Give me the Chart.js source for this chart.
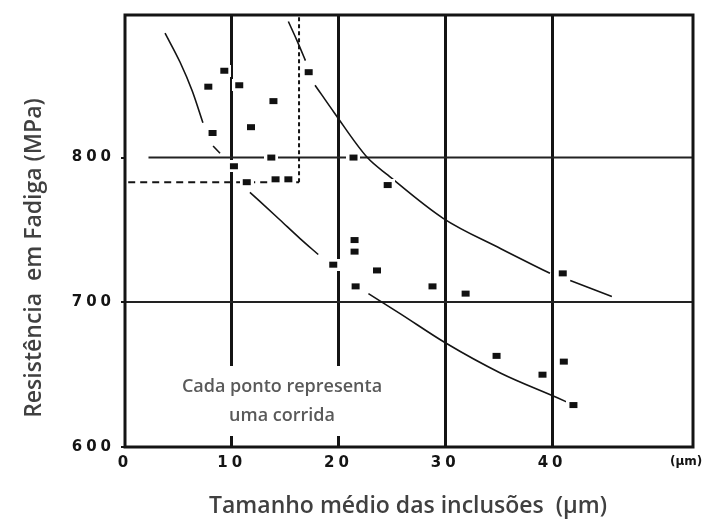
<!DOCTYPE html>
<html>
<head>
<meta charset="utf-8">
<script src="https://cdn.jsdelivr.net/npm/chart.js@4/dist/chart.umd.min.js"></script>
<style>
  html, body { margin: 0; padding: 0; background: #fff; overflow: hidden; }
  canvas { display: block; }
</style>
</head>
<body>
<canvas id="c" width="705" height="525"></canvas>
<script>
// Mean inclusion size (µm) and fatigue strength (MPa): one point per heat
const runSize     = [9.3, 7.8, 10.7, 13.9, 11.8, 8.2, 13.7, 10.2, 11.4, 14.1, 15.3, 17.2,
                     21.4, 24.6, 21.5, 21.5, 19.5, 23.6, 21.6, 28.8, 31.9, 41.0, 34.8, 39.1, 41.1, 42.0];
const runStrength = [860, 849, 850, 839, 821, 817, 800, 794, 783, 785, 785, 859,
                     800, 781, 743, 735, 726, 722, 711, 711, 706, 720, 663, 650, 659, 629];

// Upper bound of the scatter band (null = pen lifted)
const upperSize     = [15.3, 16.1, 16.9, null, 17.8, 19.6, 22.7, 24.6, 29.8, 35.2, 39.8, null, 41.7, 45.6];
const upperStrength = [894, 881, 867, null, 850, 831, 800, 788, 758, 737, 720, null, 715, 704];

// Lower bound of the scatter band (null = pen lifted)
const lowerSize     = [3.75, 5.15, 6.3, 7.3, null, 8.25, 8.9, null, 11.7, 14.5, 16.4, 18.1, null,
                       22.8, 25.8, 30.0, 35.2, 40.5, 41.7];
const lowerStrength = [886, 866, 846, 824, null, 808, 803, null, 776, 757, 744, 733, null,
                       706, 692, 672, 651, 634, 630];

// Dashed region: bottom edge, then right edge up to the top of the plot
const boxSize     = [0.3, 16.3, 16.3];
const boxStrength = [783, 783, 898.5];

// 800 MPa reference line
const refSize     = [2.2, 53.2];
const refStrength = [800, 800];

// Axis ticks
const xTicks = [0, 10, 20, 30, 40];
const yTicks = [600, 700, 800];
const xUnit = '(µm)';

const xTitle = 'Tamanho médio das inclusões  (µm)';
const yTitle = 'Resistência  em Fadiga (MPa)';
const caption = ['Cada ponto representa', 'uma corrida'];

const toPoints = (xs, ys) => xs.map((x, i) => ({ x: x, y: ys[i] }));

// Small filled rectangle marker with a white margin that breaks lines beneath it
function makeMarker(w, h, pad) {
  const cv = document.createElement('canvas');
  cv.width = w + 2 * pad;
  cv.height = h + 2 * pad;
  const g = cv.getContext('2d');
  g.fillStyle = '#fff';
  g.fillRect(0, 0, cv.width, cv.height);
  g.fillStyle = '#111';
  g.fillRect(pad, pad, w, h);
  return cv;
}
const marker = makeMarker(8, 6, 3);

const INK = '#141414';

const decor = {
  id: 'decor',
  beforeDraw(chart) {
    chart.ctx.letterSpacing = '4px';
  },
  beforeDatasetsDraw(chart) {
    const { ctx } = chart;
    ctx.save();
    ctx.fillStyle = '#fff';
    ctx.fillRect(172, 366, 222, 70);
    ctx.restore();
  },
  afterDraw(chart) {
    const { ctx, chartArea: a } = chart;
    ctx.save();
    ctx.letterSpacing = '0px';
    // frame
    ctx.strokeStyle = INK;
    ctx.lineWidth = 3;
    ctx.strokeRect(a.left, a.top, a.right - a.left, a.bottom - a.top);

    // unit at the end of the x axis
    ctx.fillStyle = INK;
    ctx.font = 'bold 12px "DejaVu Sans"';
    ctx.textAlign = 'left';
    ctx.textBaseline = 'middle';
    ctx.fillText(xUnit, 670, 462);

    // caption
    ctx.fillStyle = '#595959';
    ctx.font = '600 18px "Open Sans"';
    ctx.textAlign = 'center';
    ctx.fillText(caption[0], 282, 387);
    ctx.fillText(caption[1], 282, 416);

    // axis titles
    ctx.fillStyle = '#404040';
    ctx.font = '600 23px "Open Sans"';
    ctx.fillText(xTitle, 408, 506);
    ctx.translate(34, 258);
    ctx.rotate(-Math.PI / 2);
    ctx.fillText(yTitle, 0, 0);
    ctx.restore();
  }
};

new Chart(document.getElementById('c'), {
  type: 'scatter',
  data: {
    datasets: [
      {
        label: 'runs',
        data: toPoints(runSize, runStrength),
        pointStyle: marker,
        pointRadius: 5,
        showLine: false
      },
      {
        label: 'upper',
        data: toPoints(upperSize, upperStrength),
        showLine: true,
        borderColor: INK,
        borderWidth: 1.6,
        pointRadius: 0,
        cubicInterpolationMode: 'monotone',
        spanGaps: false
      },
      {
        label: 'lower',
        data: toPoints(lowerSize, lowerStrength),
        showLine: true,
        borderColor: INK,
        borderWidth: 1.6,
        pointRadius: 0,
        cubicInterpolationMode: 'monotone',
        spanGaps: false
      },
      {
        label: 'region',
        data: toPoints(boxSize, boxStrength),
        showLine: true,
        borderColor: INK,
        borderWidth: 2,
        pointRadius: 0,
        segment: {
          borderDash: ctx => ctx.p0DataIndex === 0 ? [7, 5] : [4, 3]
        }
      },
      {
        label: 'ref',
        data: toPoints(refSize, refStrength),
        showLine: true,
        borderColor: '#222',
        borderWidth: 2,
        pointRadius: 0
      }
    ]
  },
  options: {
    responsive: false,
    animation: false,
    devicePixelRatio: 1,
    layout: { padding: { left: 0, right: 12, top: 14, bottom: 0 } },
    plugins: { legend: { display: false }, tooltip: { enabled: false } },
    scales: {
      x: {
        type: 'linear',
        min: 0,
        max: 53.2,
        afterFit: s => { s.height = 78; },
        afterBuildTicks: s => { s.ticks = xTicks.map(v => ({ value: v })); },
        border: { display: false },
        grid: {
          drawTicks: false,
          color: c => (c.tick && c.tick.value > 0) ? INK : 'rgba(0,0,0,0)',
          lineWidth: 3
        },
        ticks: {
          padding: 7,
          color: INK,
          font: { family: 'DejaVu Sans', size: 15, weight: 'bold' },
          maxRotation: 0
        }
      },
      y: {
        type: 'linear',
        min: 600,
        max: 898.5,
        afterFit: s => { s.width = 125; },
        afterBuildTicks: s => { s.ticks = yTicks.map(v => ({ value: v })); },
        border: { display: false },
        grid: {
          drawTicks: true,
          tickLength: 4,
          tickColor: INK,
          tickWidth: 2,
          color: c => (c.tick && c.tick.value === 700) ? '#222' : 'rgba(0,0,0,0)',
          lineWidth: 2
        },
        ticks: {
          padding: 6,
          color: INK,
          font: { family: 'DejaVu Sans', size: 15, weight: 'bold' }
        }
      }
    }
  },
  plugins: [decor]
});
</script>
</body>
</html>
